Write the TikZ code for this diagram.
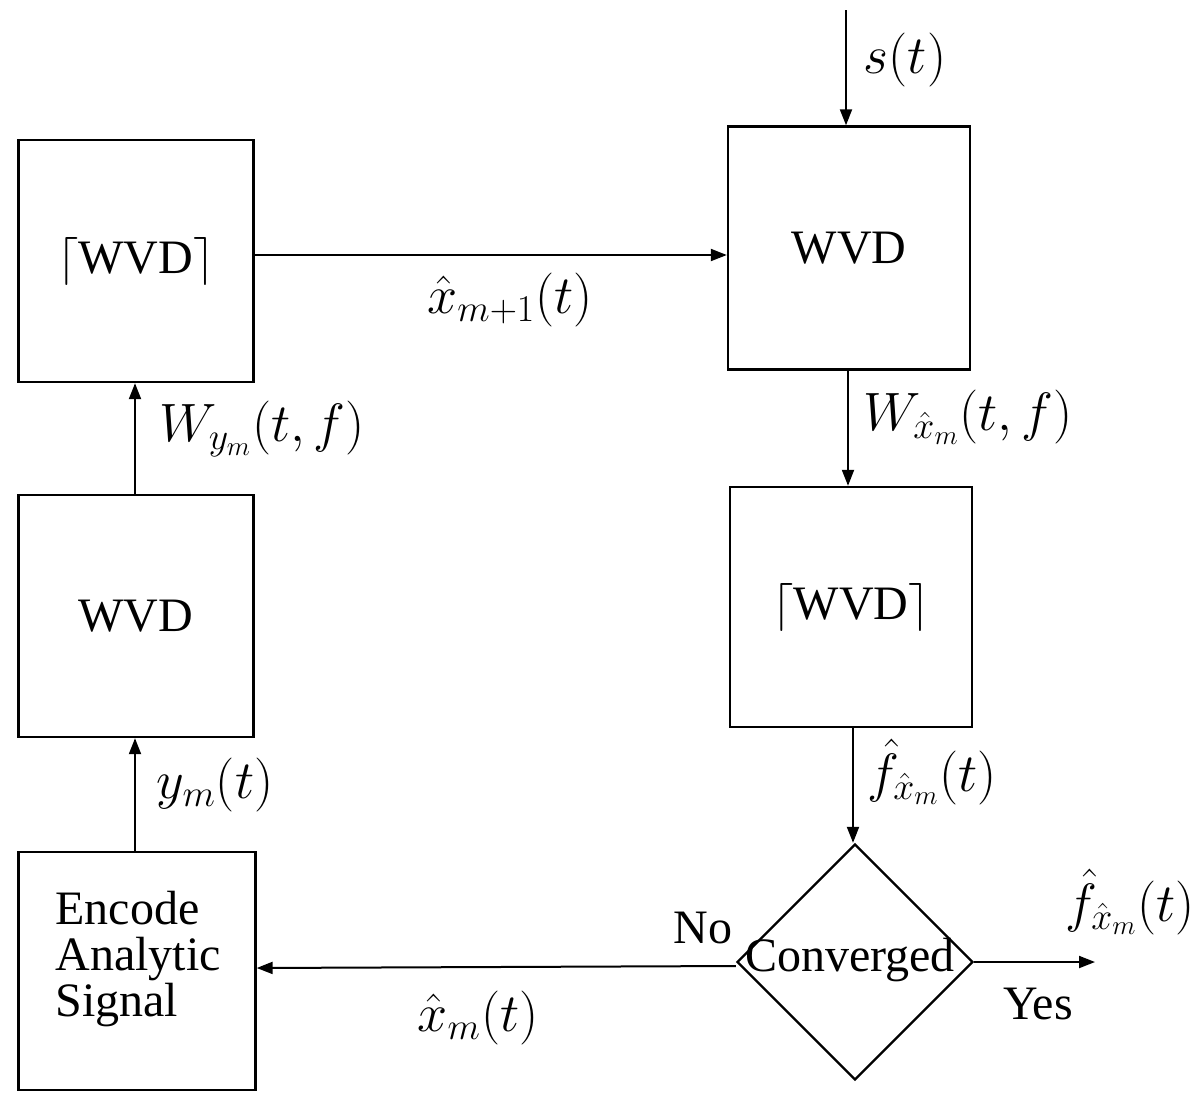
\RequirePackage{fix-cm}
\documentclass[tikz,border=0pt]{standalone}
\usepackage{fontspec}
\setmainfont{Liberation Serif}
\usetikzlibrary{shapes.geometric,arrows.meta}
\begin{document}
\begin{tikzpicture}[x=0.5pt,y=-0.5pt,
  blk/.style={draw,line width=1.2pt,inner sep=0pt,font=\fontsize{24}{26}\selectfont},
  lbl/.style={inner sep=0pt,font=\fontsize{27}{30}\selectfont},
  txt/.style={inner sep=0pt,font=\fontsize{24}{23}\selectfont},
  arr/.style={line width=1pt,-{Triangle[length=8pt,width=6pt]}}]
\useasboundingbox (0,0) rectangle (1198,1093);
% blocks
\node[blk,minimum width=117.5pt,minimum height=121pt] (b1) at (136,261) {$\lceil$WVD$\rceil$};
\node[blk,minimum width=117.5pt,minimum height=121pt] (b2) at (136,616) {WVD};
\node[blk,minimum width=118.5pt,minimum height=119pt] (b3) at (137,971) {};
\node[txt,align=left,anchor=west] (b3t) at (55,959) {Encode\\Analytic\\Signal};
\node[blk,minimum width=121pt,minimum height=121.5pt] (b4) at (849,248) {WVD};
\node[blk,minimum width=121pt,minimum height=120pt] (b5) at (851,607) {$\lceil$WVD$\rceil$};
\node[draw,line width=1.2pt,diamond,inner sep=0pt,minimum width=118pt,minimum height=118pt] (d) at (855,962) {};
\node[txt] (dt) at (850,960) {Converged};
% coordinates
\coordinate (s) at (846,10);
\coordinate (out) at (1095,962);
% connectors
\draw[arr] (s) -- (s |- b4.north);
\draw[arr] (b1.east |- 0,255) -- (b4.west |- 0,255);
\draw[arr] (b4.south -| 848,0) -- (b5.north -| 848,0);
\draw[arr] (b5.south -| 853,0) -- (d.north -| 853,0);
\draw[arr] (d.east) -- (out);
\draw[arr] (d.west |- 0,966) -- (b3.east |- 0,968);
\draw[arr] (b3.north -| 135,0) -- (b2.south -| 135,0);
\draw[arr] (b2.north -| 135,0) -- (b1.south -| 135,0);
% labels
\node[lbl] (ls) at (905,60) {$s(t)$};
\node[lbl] (lx1) at (510,300) {$\hat{x}_{m+1}(t)$};
\node[lbl] (lw1) at (968,417) {$W_{\hat{x}_m}(t,f)$};
\node[lbl] (lf1) at (932,772) {$\hat{f}_{\hat{x}_m}(t)$};
\node[lbl] (lf2) at (1130,902) {$\hat{f}_{\hat{x}_m}(t)$};
\node[txt] (lyes) at (1038,1004) {Yes};
\node[txt] (lno) at (703,928) {No};
\node[lbl] (lx) at (478,1018) {$\hat{x}_m(t)$};
\node[lbl] (ly) at (215,785) {$y_m(t)$};
\node[lbl] (lw2) at (262,429) {$W_{y_m}(t,f)$};
\end{tikzpicture}
\end{document}
